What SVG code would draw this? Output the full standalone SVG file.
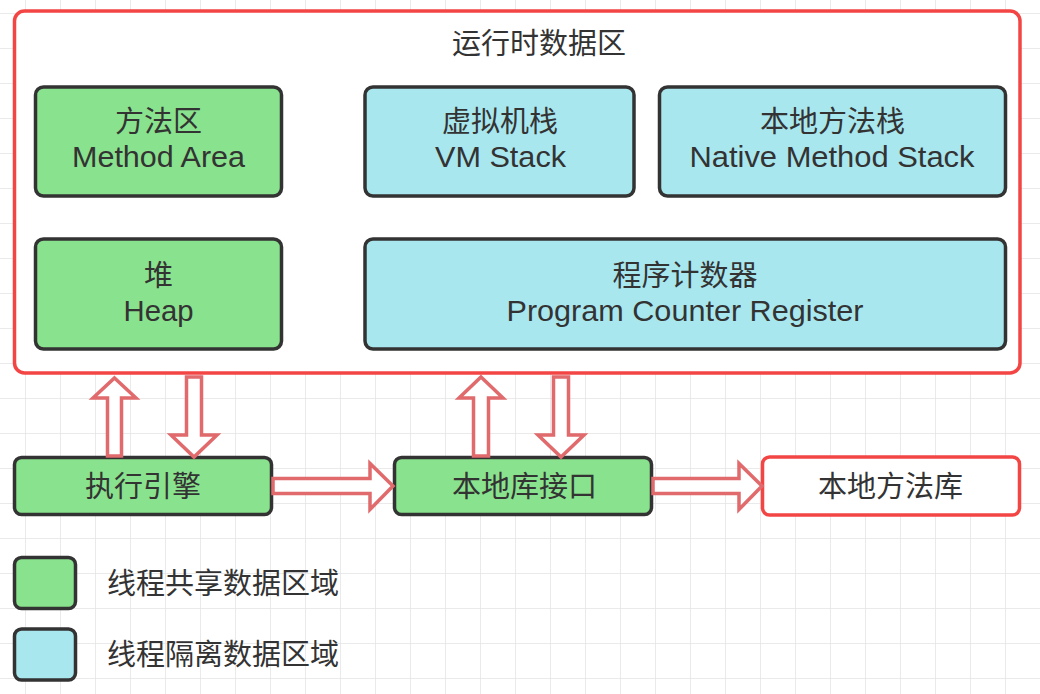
<svg xmlns="http://www.w3.org/2000/svg" width="1040" height="694" viewBox="0 0 1040 694">
<defs>
<pattern id="grid" x="25" y="13" width="35" height="35" patternUnits="userSpaceOnUse">
<path d="M0 0H35M0 0V35" fill="none" stroke="#e4e4e4" stroke-width="1.5"/>
</pattern>
<style>
.t{font-family:"Liberation Sans","Noto Sans CJK SC",sans-serif;font-size:29px;fill:#333;text-anchor:middle}
.tl{font-family:"Liberation Sans","Noto Sans CJK SC",sans-serif;font-size:29px;fill:#333}
.g{fill:#89e28d;stroke:#333;stroke-width:3.5}
.b{fill:#a9e7ef;stroke:#333;stroke-width:3.5}
.r{fill:#fff;stroke:#f44545;stroke-width:3.5}
.a{fill:#fff;stroke:#e06a6c;stroke-width:3.5;stroke-linejoin:miter}
</style>
</defs>
<rect width="1040" height="694" fill="#fff"/>
<rect width="1040" height="694" fill="url(#grid)"/>

<g id="runtime-area">
<rect class="r" x="14.5" y="11" width="1005.5" height="362" rx="10"/>
<text class="t" x="539" y="54">运行时数据区</text>
</g>

<g id="method-area">
<rect class="g" x="35.5" y="87" width="246" height="109" rx="8"/>
<text class="t" x="158.5" y="132">方法区</text>
<text class="t" x="158.5" y="167" textLength="173" lengthAdjust="spacingAndGlyphs">Method Area</text>
</g>

<g id="vm-stack">
<rect class="b" x="365" y="87" width="269" height="109" rx="8"/>
<text class="t" x="500" y="132">虚拟机栈</text>
<text class="t" x="500.5" y="167" textLength="131" lengthAdjust="spacingAndGlyphs">VM Stack</text>
</g>

<g id="native-method-stack">
<rect class="b" x="659.5" y="87" width="346" height="109" rx="8"/>
<text class="t" x="832.5" y="132">本地方法栈</text>
<text class="t" x="832" y="167" textLength="285" lengthAdjust="spacingAndGlyphs">Native Method Stack</text>
</g>

<g id="heap">
<rect class="g" x="35.5" y="239" width="246" height="110" rx="8"/>
<text class="t" x="158.5" y="286">堆</text>
<text class="t" x="158.5" y="321" textLength="70" lengthAdjust="spacingAndGlyphs">Heap</text>
</g>

<g id="pc-register">
<rect class="b" x="365" y="239" width="640.5" height="110" rx="8"/>
<text class="t" x="685" y="286">程序计数器</text>
<text class="t" x="685" y="321" textLength="357" lengthAdjust="spacingAndGlyphs">Program Counter Register</text>
</g>

<g id="execution-engine">
<rect class="g" x="14.5" y="457.5" width="257" height="57" rx="7"/>
<text class="t" x="143" y="497">执行引擎</text>
</g>

<g id="native-interface">
<rect class="g" x="394.5" y="457.5" width="257" height="57" rx="7"/>
<text class="t" x="524.5" y="497">本地库接口</text>
</g>

<g id="native-library">
<rect class="r" x="762.5" y="457" width="257" height="58" rx="7"/>
<text class="t" x="890.5" y="497">本地方法库</text>
</g>

<g id="connectors">
<polygon class="a" points="114.5,378 136,398 121.5,398 121.5,456 107.5,456 107.5,398 93,398"/>
<polygon class="a" points="186.5,377 201.5,377 201.5,435 217,435 194,457 171,435 186.5,435"/>
<polygon class="a" points="481,377 503,398 488.5,398 488.5,456 473.5,456 473.5,398 459,398"/>
<polygon class="a" points="553.5,377 568.5,377 568.5,435 584,435 561,457 538,435 553.5,435"/>
<polygon class="a" points="273,478.5 370,478.5 370,463.5 393,486 370,509.5 370,493.5 273,493.5"/>
<polygon class="a" points="653,478.5 739,478.5 739,463.5 762,486 739,509.5 739,493.5 653,493.5"/>
</g>

<g id="legend-shared">
<rect class="g" x="14.5" y="557.5" width="61" height="51" rx="7"/>
<text class="tl" x="107" y="594">线程共享数据区域</text>
</g>
<g id="legend-isolated">
<rect class="b" x="14.5" y="629" width="61" height="51" rx="7"/>
<text class="tl" x="107" y="665">线程隔离数据区域</text>
</g>
</svg>
